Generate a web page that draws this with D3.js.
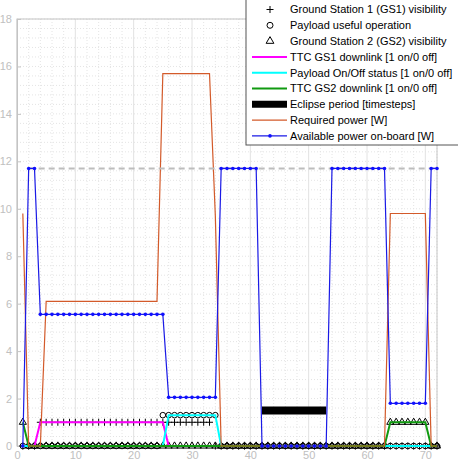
<!DOCTYPE html>
<html>
<head>
<meta charset="utf-8">
<script src="https://cdn.jsdelivr.net/npm/d3@7"></script>
<style>
  body { margin: 0; background: #fff; }
  text { font-family: "Liberation Sans", Arial, sans-serif; }
</style>
</head>
<body>
<div id="chart"></div>
<script>
// timesteps 1..72
const steps = [1,2,3,4,5,6,7,8,9,10,11,12,13,14,15,16,17,18,19,20,21,22,23,24,25,26,27,28,29,30,31,32,33,34,35,36,
  37,38,39,40,41,42,43,44,45,46,47,48,49,50,51,52,53,54,55,56,57,58,59,60,61,62,63,64,65,66,67,68,69,70,71,72]

const gs1Visibility = [0,0,0,1,1,1,1,1,1,1,1,1,1,1,1,1,1,1,1,1,1,1,1,1,1,1,1,1,1,1,1,1,1,0,0,0,
  0,0,0,0,0,0,0,0,0,0,0,0,0,0,0,0,0,0,0,0,0,0,0,0,0,0,0,0,0,0,0,0,0,0,0,0]
const payloadUseful = [0,0,0,0,0,0,0,0,0,0,0,0,0,0,0,0,0,0,0,0,0,0,0,0,1.3,1.3,1.3,1.3,1.3,1.3,1.3,1.3,1.3,1.3,0,0,
  0,0,0,0,0,0,0,0,0,0,0,0,0,0,0,0,0,0,0,0,0,0,0,0,0,0,0,0,0,0,0,0,0,0,0,0]
const gs2Visibility = [1,0,0,0,0,0,0,0,0,0,0,0,0,0,0,0,0,0,0,0,0,0,0,0,0,0,0,0,0,0,0,0,0,0,0,0,
  0,0,0,0,0,0,0,0,0,0,0,0,0,0,0,0,0,0,0,0,0,0,0,0,0,0,0,1,1,1,1,1,1,1,0,0]
const ttcGs1 = [0,0,0,1,1,1,1,1,1,1,1,1,1,1,1,1,1,1,1,1,1,1,1,1,1,0,0,0,0,0,0,0,0,0,0,0,
  0,0,0,0,0,0,0,0,0,0,0,0,0,0,0,0,0,0,0,0,0,0,0,0,0,0,0,0,0,0,0,0,0,0,0,0]
const payloadStatus = [0,0,0,0,0,0,0,0,0,0,0,0,0,0,0,0,0,0,0,0,0,0,0,0,0,1.3,1.3,1.3,1.3,1.3,1.3,1.3,1.3,1.3,0,0,
  0,0,0,0,0,0,0,0,0,0,0,0,0,0,0,0,0,0,0,0,0,0,0,0,0,0,0,0,0,0,0,0,0,0,0,0]
const ttcGs2 = [1,0,0,0,0,0,0,0,0,0,0,0,0,0,0,0,0,0,0,0,0,0,0,0,0,0,0,0,0,0,0,0,0,0,0,0,
  0,0,0,0,0,0,0,0,0,0,0,0,0,0,0,0,0,0,0,0,0,0,0,0,0,0,0,1,1,1,1,1,1,1,0,0]
const eclipseSteps = [42,43,44,45,46,47,48,49,50,51,52,53]
const eclipseLevel = 1.5
const requiredPower = [9.8,0,0,0,6.1,6.1,6.1,6.1,6.1,6.1,6.1,6.1,6.1,6.1,6.1,6.1,6.1,6.1,6.1,6.1,6.1,6.1,6.1,6.1,
  15.7,15.7,15.7,15.7,15.7,15.7,15.7,15.7,15.7,9.7,0,0,0,0,0,0,0,0,0,0,0,0,0,0,0,0,0,0,0,0,0,0,0,0,0,0,0,0,0,
  9.8,9.8,9.8,9.8,9.8,9.8,9.8,0,0]
const availablePower = [0,11.7,11.7,5.55,5.55,5.55,5.55,5.55,5.55,5.55,5.55,5.55,5.55,5.55,5.55,5.55,5.55,5.55,5.55,
  5.55,5.55,5.55,5.55,5.55,5.55,2.05,2.05,2.05,2.05,2.05,2.05,2.05,2.05,2.05,11.7,11.7,11.7,11.7,11.7,11.7,11.7,
  0,0,0,0,0,0,0,0,0,0,0,0,11.7,11.7,11.7,11.7,11.7,11.7,11.7,11.7,11.7,11.7,1.8,1.8,1.8,1.8,1.8,1.8,1.8,11.7,11.7]
const maxPowerLevel = 11.7
const maxPowerSteps = [2, 72]

const xTicks = [0,10,20,30,40,50,60,70]
const yTicks = [0,2,4,6,8,10,12,14,16,18]

const legendLabels = [
  "Ground Station 1 (GS1) visibility",
  "Payload useful operation",
  "Ground Station 2 (GS2) visibility",
  "TTC GS1 downlink [1 on/0 off]",
  "Payload On/Off status [1 on/0 off]",
  "TTC GS2 downlink [1 on/0 off]",
  "Eclipse period [timesteps]",
  "Required power [W]",
  "Available power on-board [W]"
]

const W = 458, H = 460
const margin = ({ top: 19, right: 21, bottom: 14, left: 17 })
const width = W - margin.left - margin.right,
    height = H - margin.top - margin.bottom

let svg = d3.select("#chart").append("svg")
    .attr("width", W)
    .attr("height", H)

let g = svg.append("g")
    .attr("transform", "translate(" + margin.left + "," + margin.top + ")")

let xScale = d3.scaleLinear().domain([0, 72]).range([0, width])
let yScale = d3.scaleLinear().domain([0, 18]).range([height, 0])

const axisGray = "#c4c4c4"

// minor dotted grid
g.append("g").selectAll("line")
    .data(d3.range(0, 72.01, 2).filter(d => d % 10 !== 0))
    .join("line")
    .attr("x1", d => xScale(d)).attr("x2", d => xScale(d))
    .attr("y1", 0).attr("y2", height)
    .attr("stroke", "#e4e4e4").attr("stroke-dasharray", "1,2")
g.append("g").selectAll("line")
    .data(d3.range(0, 18.01, 0.4))
    .join("line")
    .attr("x1", 0).attr("x2", width)
    .attr("y1", d => yScale(d)).attr("y2", d => yScale(d))
    .attr("stroke", "#e4e4e4").attr("stroke-dasharray", "1,2")
// major grid
g.append("g").selectAll("line")
    .data(xTicks)
    .join("line")
    .attr("x1", d => xScale(d)).attr("x2", d => xScale(d))
    .attr("y1", 0).attr("y2", height)
    .attr("stroke", "#e2e2e2")

// axes
let xAxis = d3.axisBottom(xScale).tickValues(xTicks).tickSizeInner(-4).tickSizeOuter(0).tickPadding(5)
let yAxis = d3.axisLeft(yScale).tickValues(yTicks).tickSizeInner(-4).tickSizeOuter(0).tickPadding(5)

let gx = g.append("g")
    .attr("class", "axis x-axis")
    .attr("transform", `translate(0, ${height})`)
    .call(xAxis)
let gy = g.append("g")
    .attr("class", "axis y-axis")
    .call(yAxis)
g.selectAll(".axis path, .axis line").attr("stroke", axisGray)
g.selectAll(".axis text").attr("fill", "#c0c0c0").attr("font-size", 11)
    .attr("font-family", "Liberation Sans, Arial, sans-serif")

g.append("rect")
    .attr("width", width).attr("height", height)
    .attr("fill", "none").attr("stroke", axisGray)

const line = d3.line().x((d, i) => xScale(steps[i])).y(d => yScale(d))

// markers only
function plus(sel, data) {
  const s = 3.5
  sel.append("g").selectAll("path")
      .data(data)
      .join("path")
      .attr("d", (d, i) => {
        const cx = xScale(steps[i]), cy = yScale(d)
        return `M${cx - s},${cy}H${cx + s}M${cx},${cy - s}V${cy + s}`
      })
      .attr("stroke", "#000").attr("stroke-width", 1).attr("fill", "none")
}
function circles(sel, data) {
  sel.append("g").selectAll("circle")
      .data(data)
      .join("circle")
      .attr("cx", (d, i) => xScale(steps[i]))
      .attr("cy", d => yScale(d))
      .attr("r", 2.8)
      .attr("stroke", "#000").attr("stroke-width", 1).attr("fill", "none")
}
function triangles(sel, data) {
  const tri = d3.symbol().type(d3.symbolTriangle).size(22)
  sel.append("g").selectAll("path")
      .data(data)
      .join("path")
      .attr("transform", (d, i) => `translate(${xScale(steps[i])},${yScale(d)})`)
      .attr("d", tri)
      .attr("stroke", "#000").attr("stroke-width", 1).attr("fill", "none")
}

plus(g, gs1Visibility)
circles(g, payloadUseful)
triangles(g, gs2Visibility)

g.append("path").datum(ttcGs1).attr("d", line)
    .attr("fill", "none").attr("stroke", "#ff00ff").attr("stroke-width", 2)
g.append("path").datum(payloadStatus).attr("d", line)
    .attr("fill", "none").attr("stroke", "#00ffff").attr("stroke-width", 2)
g.append("path").datum(ttcGs2).attr("d", line)
    .attr("fill", "none").attr("stroke", "#109a10").attr("stroke-width", 2)

// eclipse bar
g.append("line")
    .attr("x1", xScale(d3.min(eclipseSteps))).attr("x2", xScale(d3.max(eclipseSteps)))
    .attr("y1", yScale(eclipseLevel)).attr("y2", yScale(eclipseLevel))
    .attr("stroke", "#000").attr("stroke-width", 8)

g.append("path").datum(requiredPower).attr("d", line)
    .attr("fill", "none").attr("stroke", "#d35a2a").attr("stroke-width", 1.2)

// max power level
g.append("line")
    .attr("x1", xScale(maxPowerSteps[0])).attr("x2", xScale(maxPowerSteps[1]))
    .attr("y1", yScale(maxPowerLevel)).attr("y2", yScale(maxPowerLevel))
    .attr("stroke", "#bdbdbd").attr("stroke-width", 2).attr("stroke-dasharray", "6,4")

g.append("path").datum(availablePower).attr("d", line)
    .attr("fill", "none").attr("stroke", "#1a1ae6").attr("stroke-width", 1.2)
g.append("g").selectAll("circle")
    .data(availablePower)
    .join("circle")
    .attr("cx", (d, i) => xScale(steps[i]))
    .attr("cy", d => yScale(d))
    .attr("r", 1.8)
    .attr("fill", "#1010ff")

// legend
let legend = svg.append("g").attr("transform", "translate(246,0)")
legend.append("rect")
    .attr("x", 0).attr("y", -2).attr("width", 230).attr("height", 147)
    .attr("fill", "#fff").attr("stroke", "#555")

const rowY = i => 9.5 + i * 15.8
legendLabels.forEach((lab, i) => {
  let row = legend.append("g").attr("transform", `translate(0, ${rowY(i)})`)
  row.append("text").attr("x", 44).attr("y", 0).attr("dy", "0.35em")
      .attr("font-size", 11).attr("fill", "#000").text(lab)
})
// legend samples
let r0 = legend.append("g").attr("transform", `translate(24, ${rowY(0)})`)
r0.append("path").attr("d", "M-3.5,0H3.5M0,-3.5V3.5").attr("stroke", "#000").attr("fill", "none")
legend.append("circle").attr("cx", 24).attr("cy", rowY(1)).attr("r", 3)
    .attr("stroke", "#000").attr("fill", "none")
legend.append("path").attr("transform", `translate(24, ${rowY(2)})`)
    .attr("d", d3.symbol().type(d3.symbolTriangle).size(26))
    .attr("stroke", "#000").attr("fill", "none")
const sampleColors = [["#ff00ff", 2], ["#00ffff", 2], ["#109a10", 2], ["#000", 7], ["#d35a2a", 1.2], ["#1a1ae6", 1.2]]
sampleColors.forEach((c, k) => {
  legend.append("line").attr("x1", 6).attr("x2", 41)
      .attr("y1", rowY(k + 3)).attr("y2", rowY(k + 3))
      .attr("stroke", c[0]).attr("stroke-width", c[1])
})
legend.append("circle").attr("cx", 24).attr("cy", rowY(8)).attr("r", 1.8).attr("fill", "#1010ff")
</script>
</body>
</html>
